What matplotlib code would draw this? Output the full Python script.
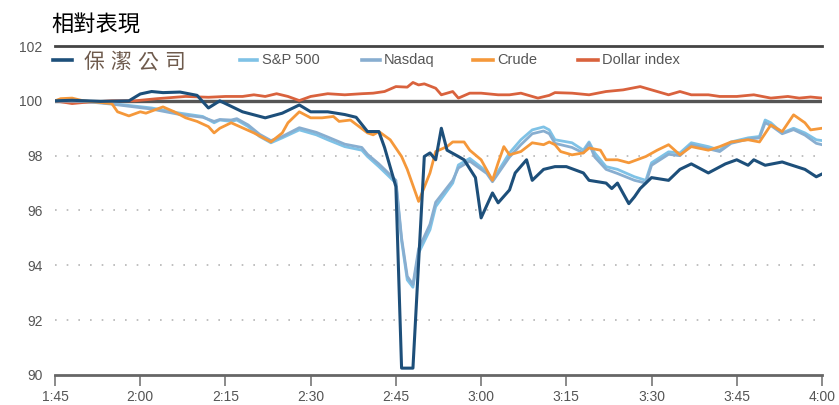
import matplotlib
matplotlib.use("Agg")
import matplotlib.pyplot as plt
from matplotlib.lines import Line2D

plt.rcParams['font.family'] = ['Liberation Sans', 'Noto Sans CJK TC', 'DejaVu Sans']

#Minutes after 1:45, values relative to 100
pg_t = [0, 3, 8, 13, 15, 17, 19, 22, 25, 27, 29, 33, 37, 40, 43, 45, 48, 51, 53, 55, 57, 58, 60, 61, 63, 65,
        66, 67, 68, 69, 71, 72, 74, 75, 77, 78, 80, 81, 83, 84, 86, 88, 90, 93, 94, 97, 98, 99, 101, 102, 103,
        104, 105, 108, 110, 112, 115, 118, 120, 122, 123, 125, 128, 129, 132, 134, 135]
pg_v = [100.0, 100.02, 99.98, 100.0, 100.25, 100.34, 100.3, 100.32, 100.2, 99.74, 100.0, 99.6, 99.38, 99.55,
        99.85, 99.6, 99.6, 99.5, 99.4, 98.88, 98.88, 98.3, 96.87, 90.25, 90.25, 97.97,
        98.1, 97.85, 99.0, 98.2, 97.97, 97.85, 97.2, 95.73, 96.64, 96.28, 96.75, 97.37, 97.85, 97.1, 97.5,
        97.6, 97.6, 97.37, 97.1, 97.0, 96.8, 97.0, 96.25, 96.5, 96.8,
        97.0, 97.2, 97.1, 97.5, 97.7, 97.37, 97.7, 97.85, 97.65, 97.85, 97.65, 97.77, 97.7, 97.5, 97.23, 97.33]

sp_t = [0, 5, 10, 17, 22, 26, 28, 29, 31, 32, 34, 36, 38, 40, 43, 46, 48, 51, 54, 55, 57, 60, 61, 62, 63, 64,
        66, 67, 70, 71, 73, 76, 77, 80, 82, 84, 86, 87, 88, 91, 93, 94, 95, 97, 99, 102, 104, 105, 108, 110,
        112, 115, 117, 119, 122, 124, 125, 126, 128, 130, 132, 134, 135]
sp_v = [100.0, 100.0, 99.9, 99.74, 99.55, 99.43, 99.2, 99.3, 99.25, 99.3, 99.06, 98.7, 98.47, 98.65, 98.94,
        98.76, 98.58, 98.33, 98.2, 97.97, 97.6, 97.0, 94.9, 93.47, 93.2, 94.45,
        95.3, 96.14, 97.0, 97.66, 97.9, 97.42, 97.1, 98.1, 98.58, 98.94, 99.05, 98.94, 98.58, 98.47, 98.2,
        98.5, 98.1, 97.6, 97.5, 97.23, 97.1, 97.74, 98.14, 98.1,
        98.47, 98.33, 98.2, 98.5, 98.65, 98.7, 99.3, 99.2, 98.83, 99.0, 98.83, 98.58, 98.55]

nq_t = sp_t
nq_v = [100.0, 99.98, 99.88, 99.7, 99.5, 99.4, 99.25, 99.32, 99.3, 99.35, 99.12, 98.78, 98.55, 98.7, 99.02,
        98.85, 98.68, 98.42, 98.3, 98.05, 97.7, 97.1, 95.0, 93.6, 93.3, 94.6,
        95.5, 96.3, 97.1, 97.55, 97.8, 97.35, 97.05, 97.95, 98.4, 98.8, 98.9, 98.8, 98.45, 98.3, 98.1,
        98.45, 97.95, 97.5, 97.35, 97.1, 97.0, 97.65, 98.05, 98.0,
        98.4, 98.25, 98.15, 98.45, 98.6, 98.65, 99.2, 99.1, 98.8, 98.95, 98.75, 98.45, 98.4]

crude_t = [0, 1, 3, 5, 10, 11, 13, 15, 16, 19, 21, 23, 25, 27, 28, 29, 31, 35, 38, 40, 41, 43, 45, 47, 49,
           50, 52, 55, 56, 57, 59, 61, 62, 64, 66, 67, 69, 70, 72, 73, 75, 77, 78, 79, 80, 82, 84, 86, 87,
           88, 89, 91, 93, 94, 96, 97, 99, 101, 104, 106, 108, 110, 112, 115, 117, 119, 122, 124, 126, 128,
           130, 132, 133, 135]
crude_v = [100.0, 100.08, 100.1, 100.0, 99.9, 99.6, 99.45, 99.6, 99.55, 99.78, 99.6, 99.38, 99.25, 99.06,
           98.83, 99.0, 99.2, 98.83, 98.5, 98.83, 99.2, 99.6, 99.38, 99.38, 99.43,
           99.25, 99.3, 98.83, 98.76, 98.88, 98.58, 97.97, 97.5, 96.33, 97.37, 98.15, 98.33, 98.5, 98.5,
           98.2, 97.85, 97.1, 97.74, 98.33, 98.03, 98.15, 98.47, 98.4, 98.5,
           98.4, 98.15, 98.03, 98.1, 98.28, 98.2, 97.85, 97.85, 97.74, 97.97, 98.2, 98.4, 98.03, 98.33,
           98.2, 98.33, 98.5, 98.58, 98.5, 99.12, 98.88, 99.49, 99.2, 98.94, 99.0]

usd_t = [0, 3, 5, 10, 14, 18, 23, 27, 30, 33, 35, 37, 39, 41, 43, 45, 48, 51, 54, 56, 58, 60, 62, 63, 64,
         65, 67, 68, 70, 71, 73, 75, 78, 80, 82, 85, 87, 88, 91, 94, 97, 100, 103, 105, 108, 110, 112, 115,
         117, 120, 123, 126, 129, 131, 133, 135]
usd_v = [100.0, 99.9, 99.94, 100.0, 100.0, 100.08, 100.16, 100.13, 100.16, 100.16, 100.22, 100.16, 100.26,
         100.16, 100.01, 100.16, 100.26, 100.22, 100.26, 100.28, 100.34, 100.52, 100.5, 100.67, 100.58,
         100.62, 100.46, 100.22, 100.34, 100.1, 100.28, 100.28, 100.22, 100.22, 100.28, 100.1, 100.2, 100.3,
         100.28, 100.22, 100.34, 100.4, 100.52, 100.4, 100.22, 100.34, 100.22, 100.22,
         100.16, 100.16, 100.22, 100.1, 100.16, 100.1, 100.14, 100.1]

tick_pos = [0, 15, 30, 45, 60, 75, 90, 105, 120, 135]
tick_lab = ["1:45", "2:00", "2:15", "2:30", "2:45", "3:00", "3:15", "3:30", "3:45", "4:00"]
y_ticks = [90, 92, 94, 96, 98, 100, 102]

c_pg = "#1d4f7a"
c_sp = "#7fc2e6"
c_nq = "#88aed0"
c_crude = "#f5983a"
c_usd = "#d9623d"

fig = plt.figure(figsize=(8.39, 4.05), dpi=100)
ax = fig.add_axes([0.0656, 0.0741, 0.9141, 0.8123])

#dotted grid + reference lines
for y in [92, 94, 96, 98]:
    ax.axhline(y, color="#b5b5b5", lw=1.2, linestyle=(0, (1, 6)), zorder=1)
ax.axhline(100, color="#555555", lw=2.4, zorder=1.5)
ax.axhline(102, color="#444444", lw=2.0, zorder=3, clip_on=False)

lw = 2.0
ax.plot(usd_t, usd_v, color=c_usd, lw=lw, zorder=2)
ax.plot(sp_t, sp_v, color=c_sp, lw=lw, zorder=2)
ax.plot(nq_t, nq_v, color=c_nq, lw=lw, zorder=2)
ax.plot(crude_t, crude_v, color=c_crude, lw=lw, zorder=2)
ax.plot(pg_t, pg_v, color=c_pg, lw=lw + 0.2, zorder=2.5)

ax.set_xlim(0, 135)
ax.set_ylim(90, 102)
ax.set_xticks(tick_pos)
ax.set_xticklabels(tick_lab)
ax.set_yticks(y_ticks)
ax.tick_params(axis='x', length=8, width=1.2, color="#777777", labelsize=10, labelcolor="#555555", pad=3)
ax.tick_params(axis='y', length=0, labelsize=10, labelcolor="#555555", pad=9)
for s in ["left", "right", "top"]:
    ax.spines[s].set_visible(False)
ax.spines["bottom"].set_color("#666666")
ax.spines["bottom"].set_linewidth(2)

#title
fig.text(0.061, 0.94, "相對表現", fontsize=16, family=["Noto Sans CJK TC"], weight="medium",
         color="#000000", va="center", ha="left")

#legend row
ly = 1 - 60 / 405
keys = [(53, 72, c_pg), (240, 257, c_sp), (362, 380, c_nq), (473, 493, c_crude), (578, 598, c_usd)]
for x0, x1, c in keys:
    fig.add_artist(Line2D([x0 / 839, x1 / 839], [ly, ly], color=c, lw=2.6, transform=fig.transFigure))
for i, ch in enumerate("保潔公司"):
    fig.text((94 + i * 26.7) / 839, ly - 0.005, ch, fontsize=15, family=["Noto Sans CJK TC"],
             color="#6e5a4c", ha="center", va="center")
for x0, txt in [(262, "S&P 500"), (384, "Nasdaq"), (497, "Crude"), (602, "Dollar index")]:
    fig.text(x0 / 839, ly, txt, fontsize=10.5, color="#555555", ha="left", va="center")

fig.savefig("out.png", dpi=100)
